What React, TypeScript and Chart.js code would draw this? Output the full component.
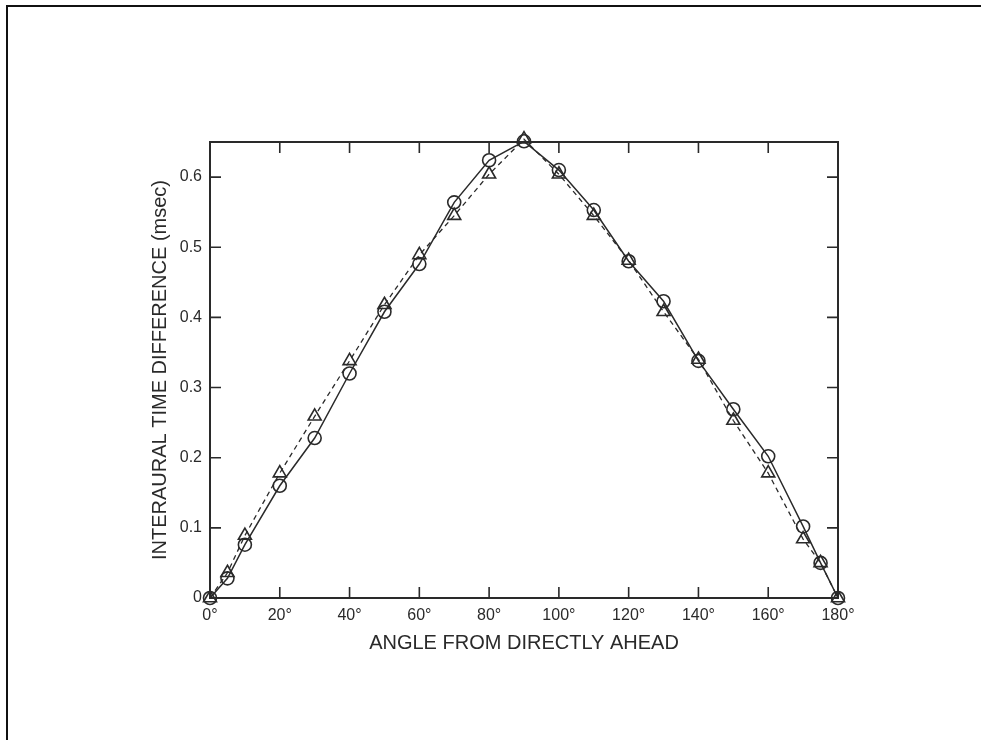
import React, { useEffect, useRef } from "react";
import { Chart, registerables } from "chart.js";

Chart.register(...registerables);

const angles = [0, 5, 10, 20, 30, 40, 50, 60, 70, 80, 90, 100, 110, 120, 130, 140, 150, 160, 170, 175, 180];
const circleValues = [0, 0.028, 0.076, 0.16, 0.228, 0.32, 0.408, 0.476, 0.564, 0.624, 0.651, 0.61, 0.553, 0.48, 0.423, 0.338, 0.269, 0.202, 0.102, 0.05, 0];
const triangleValues = [0, 0.036, 0.089, 0.178, 0.259, 0.338, 0.418, 0.489, 0.545, 0.604, 0.654, 0.604, 0.545, 0.481, 0.408, 0.34, 0.253, 0.178, 0.084, 0.05, 0];
const xTitle = "ANGLE FROM DIRECTLY AHEAD";
const yTitle = "INTERAURAL TIME DIFFERENCE (msec)";

const FONT = '"Liberation Sans", Arial, sans-serif';
const INK = "#2a2a2a";

const boxPlugin = {
  id: "boxTicks",
  beforeDatasetsDraw(chart: any) {
    const { ctx, chartArea, scales } = chart;
    const { left, right, top, bottom } = chartArea;
    const x = scales.x;
    const y = scales.y;
    ctx.save();
    ctx.strokeStyle = INK;
    ctx.lineWidth = 2;
    ctx.strokeRect(left, top, right - left, bottom - top);
    ctx.lineWidth = 1.6;
    ctx.beginPath();
    const len = 11;
    x.ticks.forEach((t: any) => {
      if (t.value <= x.min || t.value >= x.max) return;
      const px = x.getPixelForValue(t.value);
      ctx.moveTo(px, bottom);
      ctx.lineTo(px, bottom - len);
      ctx.moveTo(px, top);
      ctx.lineTo(px, top + len);
    });
    y.ticks.forEach((t: any) => {
      if (t.value <= y.min || t.value >= y.max) return;
      const py = y.getPixelForValue(t.value);
      ctx.moveTo(left, py);
      ctx.lineTo(left + len, py);
      ctx.moveTo(right, py);
      ctx.lineTo(right - len, py);
    });
    ctx.stroke();
    ctx.restore();
  },
};

export default function App() {
  const ref = useRef<HTMLCanvasElement | null>(null);

  useEffect(() => {
    if (!ref.current) return;
    const circlePts = angles.map((a, i) => ({ x: a, y: circleValues[i] }));
    const triPts = angles.map((a, i) => ({ x: a, y: triangleValues[i] }));
    const chart = new Chart(ref.current, {
      type: "line",
      data: {
        datasets: [
          {
            label: "circles",
            data: circlePts,
            borderColor: INK,
            borderWidth: 1.5,
            pointStyle: "circle",
            pointRadius: 6.5,
            pointBorderWidth: 1.6,
            pointBorderColor: INK,
            pointBackgroundColor: "rgba(255,255,255,0)",
            fill: false,
            tension: 0,
            clip: false as any,
            order: 2,
          },
          {
            label: "triangles",
            data: triPts,
            borderColor: INK,
            borderWidth: 1.3,
            borderDash: [5, 4],
            pointStyle: "triangle",
            pointRadius: 7.5,
            pointBorderWidth: 1.6,
            pointBorderColor: INK,
            pointBackgroundColor: "rgba(255,255,255,0)",
            fill: false,
            tension: 0,
            clip: false as any,
            order: 1,
          },
        ],
      },
      options: {
        responsive: false,
        animation: false,
        layout: { padding: { left: 0, right: 143, top: 142, bottom: 72 } },
        plugins: {
          legend: { display: false },
          tooltip: { enabled: false },
        },
        scales: {
          x: {
            type: "linear",
            min: 0,
            max: 180,
            afterFit: (s: any) => {
              s.height = 70;
            },
            grid: { display: false, drawTicks: false },
            border: { display: false },
            ticks: {
              stepSize: 20,
              includeBounds: false,
              padding: 8,
              color: INK,
              font: { family: FONT, size: 16 },
              callback: (v: any) => `${v}°`,
              maxRotation: 0,
            },
            title: {
              display: true,
              text: xTitle,
              color: INK,
              font: { family: FONT, size: 20 },
              padding: { top: 0, bottom: 13 },
            },
          },
          y: {
            type: "linear",
            min: 0,
            max: 0.65,
            afterFit: (s: any) => {
              s.width = 210;
            },
            grid: { display: false, drawTicks: false },
            border: { display: false },
            ticks: {
              stepSize: 0.1,
              includeBounds: false,
              padding: 8,
              color: INK,
              font: { family: FONT, size: 16 },
              callback: (v: any) => (Math.abs(v) < 1e-9 ? "0" : Number(v).toFixed(1)),
            },
            title: {
              display: true,
              text: yTitle,
              color: INK,
              font: { family: FONT, size: 20 },
              padding: { top: 148, bottom: 0 },
            },
          },
        },
      },
      plugins: [boxPlugin],
    });
    return () => chart.destroy();
  }, []);

  return (
    <div style={{ position: "fixed", left: 0, top: 0, width: 981, height: 740, background: "#fff", overflow: "hidden" }}>
      <div
        style={{
          position: "absolute",
          left: 6,
          top: 5,
          width: 981,
          height: 740,
          borderTop: "2px solid #111",
          borderLeft: "2px solid #111",
          boxSizing: "border-box",
        }}
      />
      <canvas ref={ref} width={981} height={740} style={{ position: "absolute", left: 0, top: 0 }} />
    </div>
  );
}
